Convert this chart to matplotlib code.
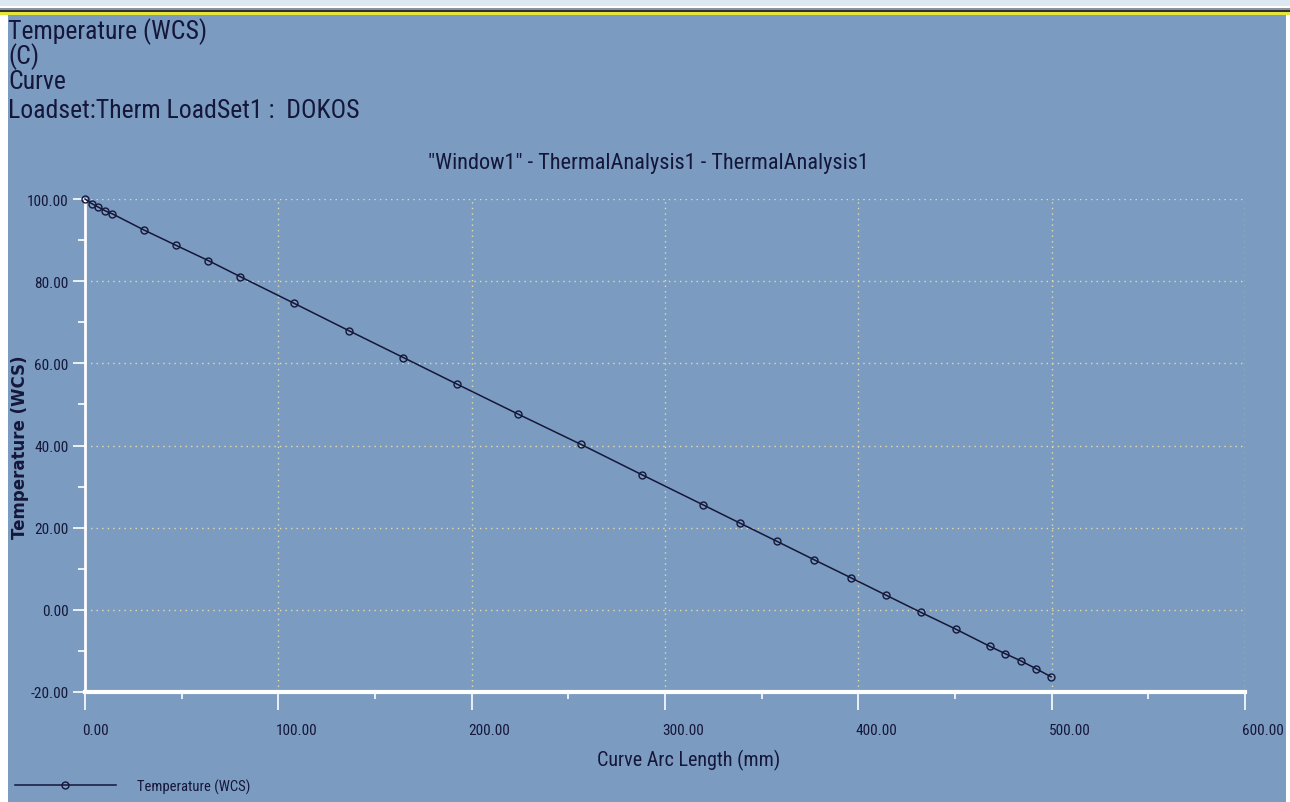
import matplotlib
matplotlib.use("Agg")
import matplotlib.pyplot as plt
from matplotlib.patches import Rectangle
from matplotlib.ticker import MultipleLocator, FormatStrFormatter
import matplotlib.transforms as mtransforms

# Temperature along the curve (arc length in mm, temperature in C)
arc_length = [0.0, 3.4, 6.6, 10.6, 14.1, 30.3, 47.2, 63.8, 80.3, 108.2,
              136.7, 164.7, 192.6, 224.2, 256.4, 288.0, 319.5, 338.8, 357.8,
              377.1, 396.2, 414.2, 432.3, 450.4, 468.1, 476.1, 484.0, 491.8,
              499.7]
temperature = [100.0, 98.9, 98.1, 97.1, 96.4, 92.5, 88.7, 85.0, 81.1, 74.6,
               67.9, 61.4, 54.9, 47.6, 40.3, 32.9, 25.6, 21.1, 16.7,
               12.2, 7.8, 3.6, -0.6, -4.7, -8.9, -10.7, -12.4, -14.3,
               -16.3]

header_lines = ["Temperature (WCS)", "(C)", "Curve",
                "Loadset:Therm LoadSet1 :  DOKOS"]
window_title = '"Window1" - ThermalAnalysis1 - ThermalAnalysis1'
x_label = "Curve Arc Length (mm)"
y_label = "Temperature (WCS)"
series_name = "Temperature (WCS)"

W, H = 1290, 803
BG = "#7b9bc0"
INK = "#15173a"
GRID = "#e6dcaa"
NARROW = ["Liberation Sans Narrow", "Roboto Condensed", "Open Sans Condensed",
          "DejaVu Sans"]
STRETCH = "condensed"

fig = plt.figure(figsize=(W / 100, H / 100), dpi=100)
fig.patch.set_facecolor("white")


def fx(px):
    return px / W


def fy(py):
    return 1 - py / H


# window panel and its top frame strips
fig.patches.append(Rectangle((fx(8), 0), fx(1278), fy(16), transform=fig.transFigure,
                             facecolor=BG, edgecolor="none", zorder=-10))
fig.patches.append(Rectangle((0, fy(7)), 1, 7 / H, transform=fig.transFigure,
                             facecolor="#dde8f1", edgecolor="none", zorder=-10))
for y0, h, c in [(9, 2, "#8d949c"), (11, 2, "#2e3033"), (13, 3, "#e5e53a")]:
    fig.patches.append(Rectangle((0, fy(y0 + h)), 1, h / H, transform=fig.transFigure,
                                 facecolor=c, edgecolor="none", zorder=-9))

# header text block
header_y = [39, 64, 89, 118]
for txt, yb in zip(header_lines, header_y):
    fig.text(fx(8), fy(yb), txt, family=NARROW, fontstretch=STRETCH,
             fontsize=18.5, color=INK, ha="left", va="baseline")

fig.text(fx(648), fy(163), window_title, family=NARROW, fontstretch=STRETCH,
         fontsize=16, color=INK, ha="center", va="center")

ax = fig.add_axes([fx(85), fy(693), fx(1245 - 85), (693 - 200) / H])
ax.set_facecolor("none")
ax.plot(arc_length, temperature, color=INK, lw=1.1, marker="o", ms=5,
        mfc="none", mec=INK, mew=1.0, clip_on=False, zorder=5,
        label=series_name)

ax.set_xlim(0, 600)
ax.set_ylim(-20, 100)
ax.xaxis.set_major_locator(MultipleLocator(100))
ax.xaxis.set_minor_locator(MultipleLocator(50))
ax.yaxis.set_major_locator(MultipleLocator(20))
ax.yaxis.set_minor_locator(MultipleLocator(10))
ax.xaxis.set_major_formatter(FormatStrFormatter("%.2f"))
ax.yaxis.set_major_formatter(FormatStrFormatter("%.2f"))

for s in ["top", "right"]:
    ax.spines[s].set_visible(False)
ax.spines["left"].set_color("white")
ax.spines["left"].set_linewidth(2.0)
ax.spines["bottom"].set_color("white")
ax.spines["bottom"].set_linewidth(3.0)

ax.tick_params(axis="x", which="major", direction="out", length=13, width=1.2,
               color="white", pad=9, labelsize=11, labelcolor=INK)
ax.tick_params(axis="x", which="minor", direction="out", length=5, width=1.2,
               color="white")
ax.tick_params(axis="y", which="major", direction="out", length=9, width=1.2,
               color="white", pad=3, labelsize=11, labelcolor=INK)
ax.tick_params(axis="y", which="minor", direction="out", length=5, width=1.2,
               color="white")

for lab in ax.get_xticklabels() + ax.get_yticklabels():
    lab.set_family(NARROW)
    lab.set_fontstretch(STRETCH)
shift = mtransforms.ScaledTranslation(-3 / 100, 0, fig.dpi_scale_trans)
for lab in ax.get_xticklabels():
    lab.set_ha("left")
    lab.set_transform(lab.get_transform() + shift)

ax.grid(True, which="major", color=GRID, ls=(0, (1, 3)), lw=1.0)
ax.set_axisbelow(True)

ax.set_xlabel(x_label, family=NARROW, fontstretch=STRETCH, fontsize=14.5,
              color=INK)
ax.xaxis.set_label_coords(fx(689), fy(760), transform=fig.transFigure)
ax.set_ylabel(y_label, family=["DejaVu Sans"], fontweight="bold",
              fontsize=12, color=INK)
ax.yaxis.set_label_coords(fx(20), fy(447), transform=fig.transFigure)
ax.xaxis.label.set_va("center")
ax.yaxis.label.set_va("center")

leg = ax.legend(loc="center left", bbox_to_anchor=(fx(15), fy(787)),
                bbox_transform=fig.transFigure, frameon=False, numpoints=1,
                handlelength=6.9, handletextpad=1.45, borderaxespad=0,
                borderpad=0, prop={"family": NARROW, "stretch": STRETCH,
                                   "size": 10.5})
for t in leg.get_texts():
    t.set_color(INK)

fig.savefig("out.png", dpi=100, facecolor=fig.get_facecolor())
